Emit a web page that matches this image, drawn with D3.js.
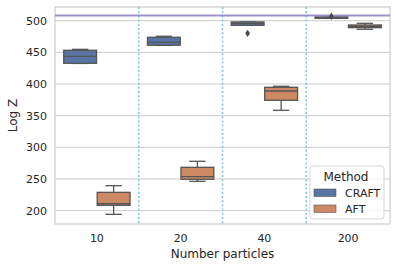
<!DOCTYPE html>
<html>
<head>
<meta charset="utf-8">
<script src="https://cdn.jsdelivr.net/npm/d3@7"></script>
<style>
  body { margin: 0; background: #fff; }
  text { font-family: "DejaVu Sans", sans-serif; fill: #262626; }
</style>
</head>
<body>
<div id="container"></div>
<script>
const W = 396, H = 268;
const margin = { top: 7, right: 6, bottom: 44, left: 55 };

// categories and series
const particles = ["10", "20", "40", "200"];
const methods = ["CRAFT", "AFT"];
const colors = ["#5975a4", "#cc8963"];

// box stats per method: [min, q1, median, q3, max]
const craftStats = [
    [432.5, 432.7, 443.8, 453.3, 454.8],
    [461.0, 461.2, 465.9, 473.8, 475.4],
    [492.7, 492.7, 495.3, 498.0, 498.0],
    [503.8, 503.8, 505.0, 506.0, 506.0]
];
const aftStats = [
    [194.3, 208.5, 211.0, 229.0, 239.5],
    [246.4, 249.6, 253.7, 268.5, 278.0],
    [358.5, 374.3, 389.0, 394.8, 396.4],
    [486.4, 489.0, 491.2, 493.2, 495.9]
];
// outliers [category, value]
const craftOutliers = [["40", 480], ["200", 507]];
const aftOutliers = [];

const yTicks = [200, 250, 300, 350, 400, 450, 500];
const refValue = 508;

const svg = d3.select("#container").append("svg")
    .attr("width", W).attr("height", H);

const x = d3.scaleBand().domain(particles)
    .range([margin.left, W - margin.right]);
const y = d3.scaleLinear().domain([179, 521.6])
    .range([H - margin.bottom, margin.top]);

// grid
svg.append("g").selectAll("line").data(yTicks).enter().append("line")
    .attr("x1", margin.left).attr("x2", W - margin.right)
    .attr("y1", d => y(d)).attr("y2", d => y(d))
    .attr("stroke", "#cccccc").attr("stroke-width", 1);

// axes
const yAxis = svg.append("g")
    .attr("transform", `translate(${margin.left},0)`)
    .call(d3.axisLeft(y).tickValues(yTicks).tickSize(0).tickPadding(8));
yAxis.select(".domain").remove();
yAxis.selectAll("text").style("font-size", "11px").attr("fill", "#262626");

const xAxis = svg.append("g")
    .attr("transform", `translate(0,${H - margin.bottom})`)
    .call(d3.axisBottom(x).tickSize(0).tickPadding(10));
xAxis.select(".domain").remove();
xAxis.selectAll("text").style("font-size", "11px").attr("fill", "#262626");

// frame
svg.append("rect")
    .attr("x", margin.left).attr("y", margin.top)
    .attr("width", W - margin.left - margin.right)
    .attr("height", H - margin.top - margin.bottom)
    .attr("fill", "none").attr("stroke", "#cccccc").attr("stroke-width", 1.2);

// dotted separators
svg.append("g").selectAll("line").data(particles.slice(1)).enter().append("line")
    .attr("x1", d => x(d)).attr("x2", d => x(d))
    .attr("y1", margin.top).attr("y2", H - margin.bottom)
    .attr("stroke", "#7fc6dc").attr("stroke-width", 1.6)
    .attr("stroke-dasharray", "2,2.2");

// boxes
const inner = d3.scaleBand().domain(methods).range([0, x.bandwidth() * 0.8]);
const boxW = inner.bandwidth() * 0.98;
const lineCol = "#555555";

function drawBoxes(method, stats, color) {
    const g = svg.append("g");
    stats.forEach((s, i) => {
        const cx = x(particles[i]) + x.bandwidth() * 0.1 + inner(method) + inner.bandwidth() / 2;
        const [mn, q1, md, q3, mx] = s;
        g.append("line").attr("x1", cx).attr("x2", cx)
            .attr("y1", y(q3)).attr("y2", y(mx)).attr("stroke", lineCol).attr("stroke-width", 1.3);
        g.append("line").attr("x1", cx).attr("x2", cx)
            .attr("y1", y(q1)).attr("y2", y(mn)).attr("stroke", lineCol).attr("stroke-width", 1.3);
        [mn, mx].forEach(v => {
            g.append("line").attr("x1", cx - boxW / 4).attr("x2", cx + boxW / 4)
                .attr("y1", y(v)).attr("y2", y(v)).attr("stroke", lineCol).attr("stroke-width", 1.3);
        });
        g.append("rect")
            .attr("x", cx - boxW / 2).attr("y", y(q3))
            .attr("width", boxW).attr("height", Math.max(y(q1) - y(q3), 1))
            .attr("fill", color).attr("stroke", lineCol).attr("stroke-width", 1.3);
        g.append("line").attr("x1", cx - boxW / 2).attr("x2", cx + boxW / 2)
            .attr("y1", y(md)).attr("y2", y(md)).attr("stroke", lineCol).attr("stroke-width", 1.3);
    });
}
drawBoxes("CRAFT", craftStats, colors[0]);
drawBoxes("AFT", aftStats, colors[1]);

// reference line
svg.append("line")
    .attr("x1", margin.left).attr("x2", W - margin.right)
    .attr("y1", y(refValue)).attr("y2", y(refValue))
    .attr("stroke", "#9e93c8").attr("stroke-width", 2);

// outliers
function drawOutliers(method, pts) {
    svg.append("g").selectAll("path").data(pts).enter().append("path")
        .attr("d", "M0,-3.7L2.4,0L0,3.7L-2.4,0Z")
        .attr("transform", d => {
            const cx = x(d[0]) + x.bandwidth() * 0.1 + inner(method) + inner.bandwidth() / 2;
            return `translate(${cx},${y(d[1])})`;
        })
        .attr("fill", "#4a4a4a");
}
drawOutliers("CRAFT", craftOutliers);
drawOutliers("AFT", aftOutliers);

// axis labels
svg.append("text")
    .attr("x", (margin.left + W - margin.right) / 2).attr("y", 258)
    .attr("text-anchor", "middle").style("font-size", "12px")
    .text("Number particles");
svg.append("text")
    .attr("transform", `translate(17,${(margin.top + H - margin.bottom) / 2}) rotate(-90)`)
    .attr("text-anchor", "middle").style("font-size", "12px")
    .text("Log Z");

// legend
const lg = svg.append("g").attr("transform", "translate(310,166)");
lg.append("rect").attr("width", 74).attr("height", 53).attr("rx", 3)
    .attr("fill", "#ffffff").attr("fill-opacity", 0.85)
    .attr("stroke", "#d6d6d6").attr("stroke-width", 1);
lg.append("text").attr("x", 36).attr("y", 15).attr("text-anchor", "middle")
    .style("font-size", "12px").text("Method");
lg.selectAll(".item").data(methods).enter().append("g")
    .attr("transform", (d, i) => `translate(4,${23 + i * 16})`)
    .each(function (d, i) {
        const it = d3.select(this);
        it.append("rect").attr("width", 22).attr("height", 7.5)
            .attr("fill", colors[i]).attr("stroke", lineCol).attr("stroke-width", 0.6);
        it.append("text").attr("x", 31).attr("y", 8).style("font-size", "11px").text(d);
    });
</script>
</body>
</html>
